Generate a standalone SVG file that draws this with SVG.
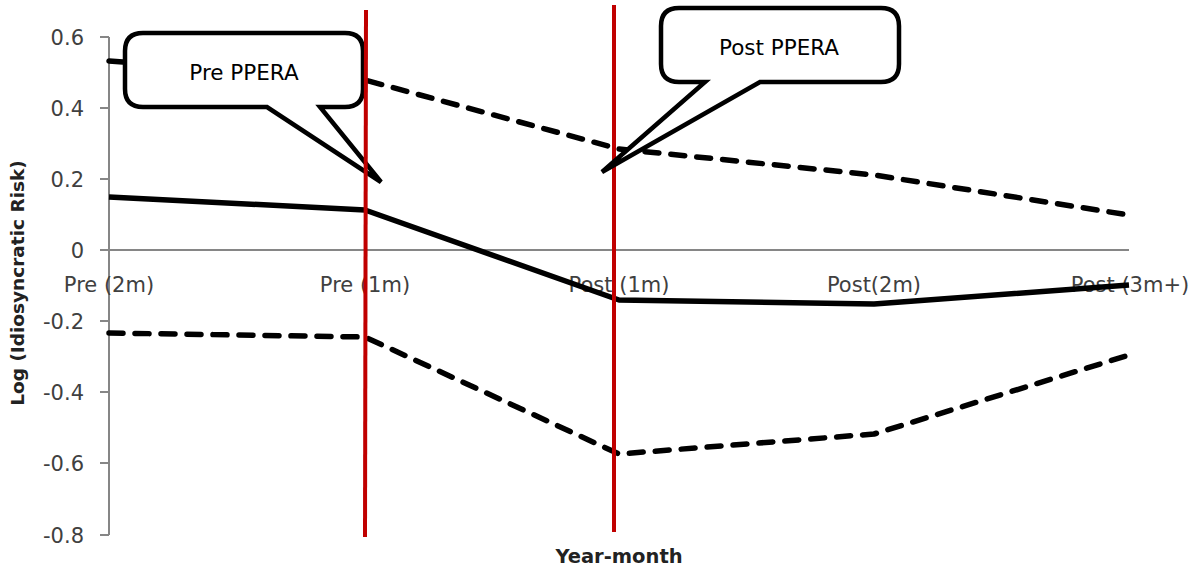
<svg xmlns="http://www.w3.org/2000/svg" width="1194" height="567" viewBox="0 0 1194 567">
<style>
.tick{font-family:"DejaVu Sans",sans-serif;font-size:21px;fill:#404040;text-anchor:end}
.cat{font-family:"DejaVu Sans",sans-serif;font-size:21px;fill:#404040;text-anchor:middle}
.ttl{font-family:"DejaVu Sans",sans-serif;font-weight:bold;fill:#222;text-anchor:middle}
.ax{stroke:#868686;stroke-width:2;fill:none}
.solid{stroke:#000;stroke-width:5.5;fill:none;stroke-linejoin:round}
.dash{stroke:#000;stroke-width:5.5;fill:none;stroke-dasharray:14 12;stroke-linecap:round;stroke-linejoin:round}
.red{stroke:#C00000;stroke-width:4}
.callout{fill:#fff;stroke:#000;stroke-width:4.5;stroke-linejoin:miter}
.ctext{font-family:"DejaVu Sans",sans-serif;font-size:21.5px;fill:#000;text-anchor:middle}
</style>
<rect width="1194" height="567" fill="#fff"/>
<g id="axes">
<path class="ax" d="M109,37 V535 M100,37 H109 M100,108 H109 M100,179 H109 M100,250 H1129 M100,321 H109 M100,392 H109 M100,463 H109 M100,535 H109"/>
<text class="tick" x="84" y="45">0.6</text>
<text class="tick" x="84" y="116">0.4</text>
<text class="tick" x="84" y="187">0.2</text>
<text class="tick" x="84" y="258">0</text>
<text class="tick" x="84" y="329">-0.2</text>
<text class="tick" x="84" y="400">-0.4</text>
<text class="tick" x="84" y="471">-0.6</text>
<text class="tick" x="84" y="543">-0.8</text>
<text class="cat" x="109" y="292">Pre (2m)</text>
<text class="cat" x="365" y="292">Pre (1m)</text>
<text class="cat" x="619" y="292">Post (1m)</text>
<text class="cat" x="874" y="292">Post(2m)</text>
<text class="cat" x="1130" y="292">Post (3m+)</text>
<text class="ttl" x="619" y="563" font-size="19.5">Year-month</text>
<text class="ttl" x="0" y="0" font-size="18.5" transform="translate(24,283) rotate(-90)">Log (Idiosyncratic Risk)</text>
</g>
<g id="connectors">
<polyline class="dash" points="109,61 365,80 619,149 874,175 1129,215"/>
<polyline class="solid" points="109,197 365,210 619,300 874,304 1129,285"/>
<polyline class="dash" points="109,333 365,337 619,454 874,434 1129,355"/>
</g>
<g id="callout-pre">
<path class="callout" d="M143,33 H345 Q363,33 363,51 V89 Q363,107 345,107 H320 L381,182 L267,107 H143 Q125,107 125,89 V51 Q125,33 143,33 Z"/>
<text class="ctext" x="244" y="80">Pre PPERA</text>
</g>
<g id="markers">
<line class="red" x1="366" y1="10" x2="365" y2="537"/>
<line class="red" x1="614" y1="5" x2="614" y2="532"/>
</g>
<g id="callout-post">
<path class="callout" d="M679,8 H881 Q899,8 899,26 V64 Q899,82 881,82 H760 L602,172 L705,82 H679 Q661,82 661,64 V26 Q661,8 679,8 Z"/>
<text class="ctext" x="779" y="55">Post PPERA</text>
</g>
</svg>
